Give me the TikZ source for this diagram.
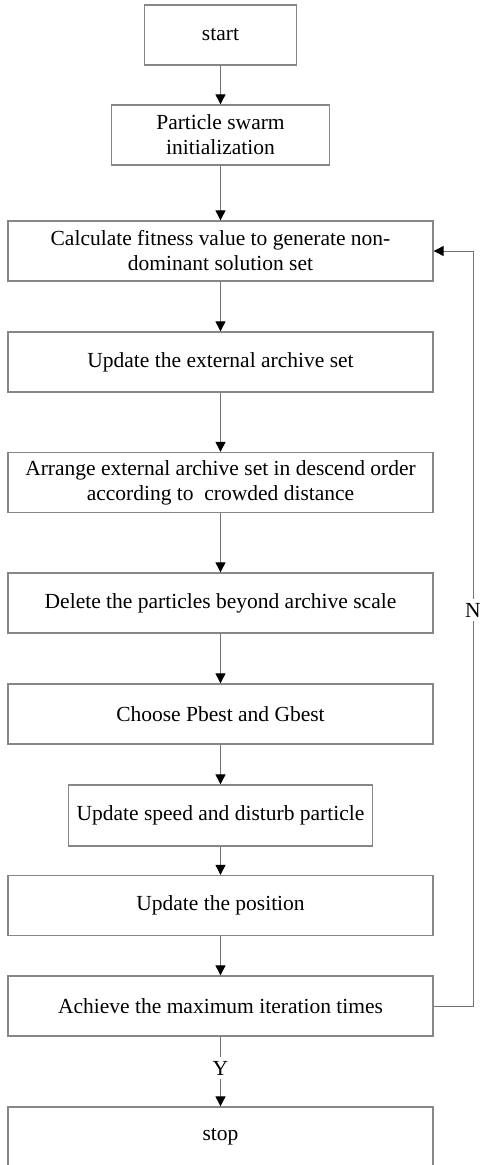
\documentclass[tikz,border=0pt]{standalone}
\usepackage{fontspec}
\setmainfont{Liberation Serif}
\usetikzlibrary{arrows.meta}
\definecolor{boxgray}{RGB}{135,135,135}
\definecolor{linegray}{RGB}{115,115,115}
\begin{document}
\begin{tikzpicture}[x=1pt,y=-1pt,
  txt/.style={font=\fontsize{21.5}{25}\selectfont},
  box/.style={txt, draw=boxgray, line width=1.3pt, minimum height=60pt, inner sep=0pt, align=center},
  wide/.style={box, minimum width=425pt},
  ln/.style={draw=linegray, line width=0.9pt},
  conn/.style={ln, -{Triangle[width=10pt,length=10pt,color=black,fill=black]}},
  lbl/.style={txt, fill=white, inner sep=4pt}]
\useasboundingbox (0,0) rectangle (480,1165);
\node[box, minimum width=152pt] (start) at (220.5,35) {start};
\node[box, minimum width=218pt] (init) at (220.5,135) {Particle swarm\\initialization};
\node[wide] (calc) at (220.5,251) {Calculate fitness value to generate non-\\dominant solution set};
\node[wide] (ext) at (220.5,362) {Update the external archive set};
\node[wide] (arr) at (220.5,482.5) {Arrange external archive set in descend order\\according to\ \ crowded distance};
\node[wide] (del) at (220.5,603) {Delete the particles beyond archive scale};
\node[wide] (cho) at (220.5,714) {Choose Pbest and Gbest};
\node[box, minimum width=304pt, minimum height=61pt] (spd) at (220.5,815.5) {Update speed and disturb particle};
\node[wide] (pos) at (220.5,905.5) {Update the position};
\node[wide] (ach) at (220.5,1006) {Achieve the maximum iteration times};
\node[wide] (stop) at (220.5,1137) {stop};
\draw[conn] (start) -- (init);
\draw[conn] (init) -- (calc);
\draw[conn] (calc) -- (ext);
\draw[conn] (ext) -- (arr);
\draw[conn] (arr) -- (del);
\draw[conn] (del) -- (cho);
\draw[conn] (cho) -- (spd);
\draw[conn] (spd) -- (pos);
\draw[conn] (pos) -- (ach);
\draw[conn] (ach) -- (stop);
\node[lbl] (ylab) at (220.5,1068) {Y};
\coordinate (fb1) at (473,1006);
\coordinate (fb2) at (473,251);
\draw[ln] (ach.east) -- (fb1) -- (fb2);
\draw[conn] (fb2) -- (calc.east);
\node[lbl] (nlab) at (473,610) {N};
\end{tikzpicture}
\end{document}
